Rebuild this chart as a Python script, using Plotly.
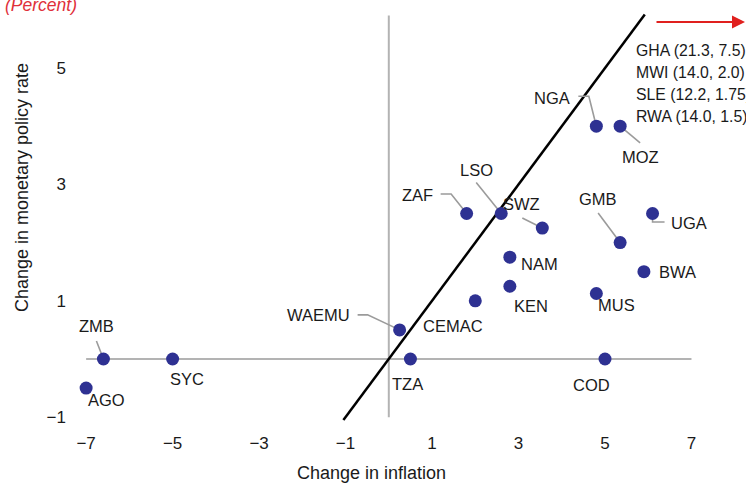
import plotly.graph_objects as go

# ---------------- data ----------------
countries = ["ZMB", "SYC", "AGO", "WAEMU", "TZA", "COD", "CEMAC", "KEN", "NAM",
             "ZAF", "LSO", "SWZ", "GMB", "UGA", "BWA", "MUS", "NGA", "MOZ"]
inflation_change = [-6.6, -5.0, -7.0, 0.25, 0.5, 5.0, 2.0, 2.8, 2.8,
                    1.8, 2.6, 3.55, 5.35, 6.1, 5.9, 4.8, 4.8, 5.35]
policy_rate_change = [0.0, 0.0, -0.5, 0.5, 0.0, 0.0, 1.0, 1.25, 1.75,
                      2.5, 2.5, 2.25, 2.0, 2.5, 1.5, 1.125, 4.0, 4.0]
offchart_labels = ["GHA (21.3, 7.5)", "MWI (14.0, 2.0)", "SLE (12.2, 1.75)", "RWA (14.0, 1.5)"]
x_ticks = [-7, -5, -3, -1, 1, 3, 5, 7]
y_ticks = [-1, 1, 3, 5]

# ---------------- layout helpers (pixels) ----------------
W, H = 746, 484
ML, MR, MT, MB = 76, 0, 0, 54
X0PX, XSCALE = 388.8, 43.24   # px of x=0, px per unit
Y0PX, YSCALE = 359.0, 58.2    # px of y=0, px per unit
x_range = [(ML - X0PX) / XSCALE, (W - MR - X0PX) / XSCALE]
y_range = [(Y0PX - (H - MB)) / YSCALE, (Y0PX - MT) / YSCALE]

def px2x(px):
    return (px - X0PX) / XSCALE

def px2y(py):
    return (Y0PX - py) / YSCALE

FONT = "Liberation Sans, Arial, sans-serif"
TXT = "#1a1a1a"
DOT = "#2E3192"
LEADER = "#9B9B9B"
AXLINE = "#B3B3B3"
LBL_SIZE = 16.5
LIST_SIZE = 15.8
TICK_SIZE = 17
TITLE_SIZE = 18

# label placement: (dx, dy) text-centre offset in px (screen, y down); leader path in px
label_style = {
    "ZMB": ((-7, -33), [(-7, -18), (0, 0)]),
    "SYC": ((14, 20), None),
    "AGO": ((20, 12), None),
    "WAEMU": ((-81, -15), [(-42, -15), (-32, -15), (0, 0)]),
    "TZA": ((-3, 25), None),
    "COD": ((-14, 26), None),
    "CEMAC": ((-22, 25), None),
    "KEN": ((21, 20), None),
    "NAM": ((30, 7), None),
    "ZAF": ((-49, -19), [(-26, -19.5), (-15.5, -19.5), (0, 0)]),
    "LSO": ((-25, -44), [(-25, -31), (0, 0)]),
    "SWZ": ((-21, -24), [(-20, -10), (0, 0)]),
    "GMB": ((-22, -44), [(-22, -29.5), (0, 0)]),
    "UGA": ((36, 9), [(0, 0), (0, 8.5), (12, 8.5)]),
    "BWA": ((34, 0.5), None),
    "MUS": ((20.5, 11), None),
    "NGA": ((-44, -28), [(-18, -30), (-7.5, -30), (0, 0)]),
    "MOZ": ((20, 31), [(0, 0), (20, 16.7)]),
}

fig = go.Figure()

shapes = []
# reference axes lines
shapes.append(dict(type="line", xref="x", yref="y", x0=-7, x1=7, y0=0, y1=0,
                   line=dict(color=AXLINE, width=2), layer="below"))
shapes.append(dict(type="line", xref="x", yref="y", x0=0, x1=0, y0=-1, y1=5.9,
                   line=dict(color=AXLINE, width=2), layer="below"))
# 45-degree line
shapes.append(dict(type="line", xref="x", yref="y", x0=-1.05, x1=5.92, y0=-1.05, y1=5.92,
                   line=dict(color="black", width=2.5), layer="below"))

annotations = []
for c, xv, yv in zip(countries, inflation_change, policy_rate_change):
    (dx, dy), path = label_style[c]
    annotations.append(dict(x=xv, y=yv, xref="x", yref="y", text=c, showarrow=False,
                            xshift=dx, yshift=-dy, font=dict(family=FONT, size=LBL_SIZE, color=TXT),
                            xanchor="center", yanchor="middle"))
    if path:
        p = "M" + " L".join(f"{px},{-py}" for px, py in path)
        shapes.append(dict(type="path", xref="x", yref="y", xsizemode="pixel", ysizemode="pixel",
                           xanchor=xv, yanchor=yv, path=p,
                           line=dict(color=LEADER, width=1.6), layer="below"))

fig.add_trace(go.Scatter(x=inflation_change, y=policy_rate_change, mode="markers",
                         marker=dict(color=DOT, size=13, line=dict(width=0)),
                         hoverinfo="text", text=countries, showlegend=False, cliponaxis=False))

# off-chart list
for i, t in enumerate(offchart_labels):
    annotations.append(dict(x=px2x(634), y=px2y(50 + 22 * i), xref="x", yref="y", text=t,
                            showarrow=False, xanchor="left", yanchor="middle",
                            font=dict(family=FONT, size=LIST_SIZE, color=TXT)))
# red arrow
annotations.append(dict(x=px2x(745), y=px2y(22), ax=px2x(655), ay=px2y(22),
                        xref="x", yref="y", axref="x", ayref="y", text="", showarrow=True,
                        arrowhead=2, arrowsize=1.3, arrowwidth=2, arrowcolor="#E0201E"))
# axis titles and unit
annotations.append(dict(xref="paper", yref="paper", x=(371 - ML) / (W - ML - MR), y=-(473 - (H - MB)) / (H - MT - MB),
                        text="Change in inflation", showarrow=False, xanchor="center", yanchor="middle",
                        font=dict(family=FONT, size=TITLE_SIZE, color=TXT)))
annotations.append(dict(xref="paper", yref="paper", x=(22 - ML) / (W - ML - MR), y=((H - MB) - 188) / (H - MT - MB),
                        text="Change in monetary policy rate", showarrow=False, textangle=-90,
                        xanchor="center", yanchor="middle",
                        font=dict(family=FONT, size=TITLE_SIZE, color=TXT)))
annotations.append(dict(xref="paper", yref="paper", x=(41 - ML) / (W - ML - MR), y=((H - MB) - 5) / (H - MT - MB),
                        text="(Percent)", showarrow=False, xanchor="center", yanchor="middle",
                        font=dict(family=FONT, size=17.5, color="#E0303A", style="italic")))

fig.update_layout(
    width=W, height=H, margin=dict(l=ML, r=MR, t=MT, b=MB),
    paper_bgcolor="white", plot_bgcolor="white",
    shapes=shapes, annotations=annotations,
    xaxis=dict(range=x_range, tickvals=x_ticks, ticktext=[f"{v:g}".replace("-", "\u2212") for v in x_ticks],
               showgrid=False, zeroline=False, showline=False, ticks="",
               tickfont=dict(family=FONT, size=TICK_SIZE, color=TXT), ticklabelstandoff=1),
    yaxis=dict(range=y_range, tickvals=y_ticks, ticktext=[f"{v:g}".replace("-", "\u2212") for v in y_ticks],
               showgrid=False, zeroline=False, showline=False, ticks="",
               tickfont=dict(family=FONT, size=TICK_SIZE, color=TXT), ticklabelstandoff=9),
)

fig.write_html("out.html", config={"displayModeBar": False},
               post_script="document.body.style.margin='0';document.body.style.padding='0';")
